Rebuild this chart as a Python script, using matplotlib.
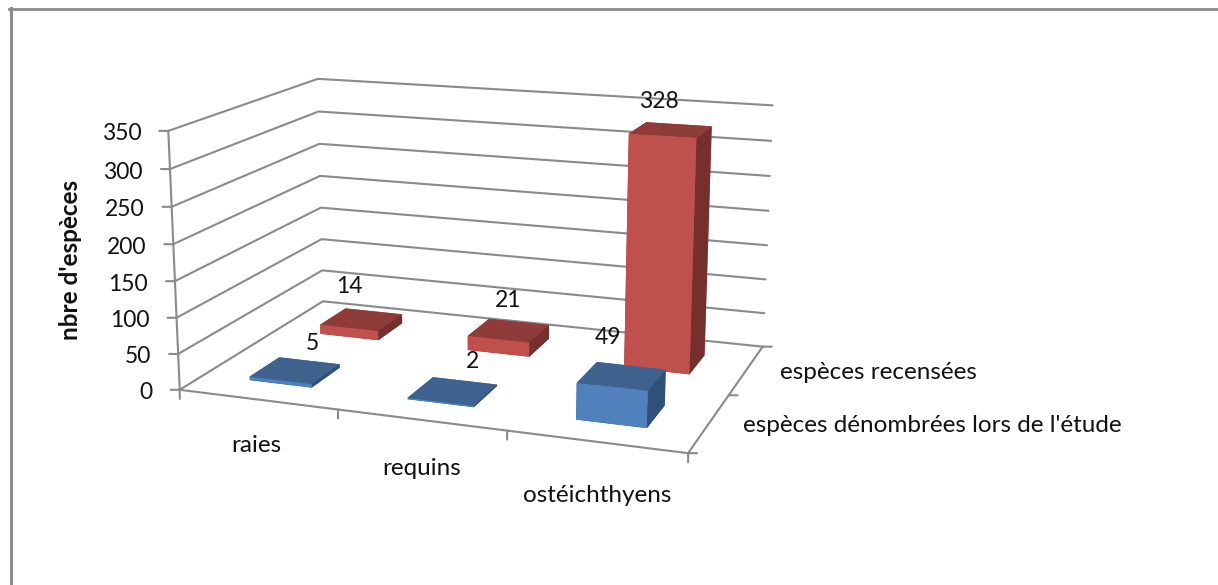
import matplotlib
matplotlib.use('Agg')
import matplotlib.pyplot as plt
from matplotlib.lines import Line2D
from mpl_toolkits.mplot3d import proj3d

categories = ['raies', 'requins', 'ostéichthyens']
series_names = ["espèces dénombrées lors de l'étude", 'espèces recensées']
denombrees = [5, 2, 49]
recensees = [14, 21, 328]
z_ticks = [0, 50, 100, 150, 200, 250, 300, 350]

W, H = 1218, 585
GREY = '#8A8A8A'
TXT = '#111111'
FS_NUM = 16.5
FS_TXT = 17.5
LW = 1.5
plt.rcParams['font.family'] = ['Lato', 'DejaVu Sans']

# front face, top, right side of the bars
BLUE = ['#4F81BD', '#3E618D', '#2F5078']
RED = ['#C0504D', '#8E3B39', '#772F2D']

fig = plt.figure(figsize=(W / 100, H / 100), dpi=100)
side = 641.59
ax = fig.add_axes([152.45 / W, 1 - (-67.39 + side) / H, side / W, side / H],
                  projection='3d', computed_zorder=False)
ax.patch.set_visible(False)
ax.set_axis_off()
x0, x1 = -0.5, 2.5
y0, y1 = -0.5, 1.5
ax.set_xlim(x0, x1)
ax.set_ylim(y0, y1)
ax.set_zlim(z_ticks[0], z_ticks[-1])
ax.view_init(14.2667, -70.0536, 0.0323)
ax.set_box_aspect((1, 0.6536, 0.5058))
ax.set_proj_type('persp', focal_length=0.5177)
M = ax.get_proj()


def note(x, y, z, s, dx, dy, fs=FS_TXT, **kw):
    u, v, _ = proj3d.proj_transform(x, y, z, M)
    ax.annotate(s, (u, v), xytext=(dx, dy), textcoords='offset pixels',
                annotation_clip=False, fontsize=fs, color=TXT, zorder=6, **kw)


def tick(x, y, z, dx, dy):
    u, v, _ = proj3d.proj_transform(x, y, z, M)
    ax.annotate('', (u, v), xytext=(dx, dy), textcoords='offset pixels',
                annotation_clip=False, zorder=1,
                arrowprops=dict(arrowstyle='-', color=GREY, lw=LW,
                                shrinkA=0, shrinkB=0))


# walls and floor
for z in z_ticks:
    ax.plot([x0, x0, x1], [y0, y1, y1], [z, z, z], color=GREY, lw=LW, zorder=1)
ax.plot([x0, x0], [y0, y0], [z_ticks[0], z_ticks[-1]], color=GREY, lw=LW, zorder=1)
ax.plot([x0, x1, x1], [y0, y0, y1], [0, 0, 0], color=GREY, lw=LW, zorder=1)

# axis ticks and their labels
for z in z_ticks:
    tick(x0, y0, z, -9, 0)
    note(x0, y0, z, str(z), -27, -3, fs=FS_NUM, ha='right', va='center')
for x in [x0, x0 + 1, x0 + 2, x1]:
    tick(x, y0, 0, 0, -9)
for y in [y0, y0 + 1, y1]:
    tick(x1, y, 0, 9, 0)

cat_offsets = [(-1, -46), (0, -49), (1, -54)]
for i, name in enumerate(categories):
    note(i, y0, 0, name, cat_offsets[i][0], cat_offsets[i][1], ha='center', va='center')
for j, name in enumerate(series_names):
    note(x1, j, 0, name, 34, -3, ha='left', va='center')

# bars, back row first
bar_w = 0.4
bar_d = 0.4
for j, (vals, c) in enumerate([(recensees, RED), (denombrees, BLUE)]):
    y = 1 - j
    for i, v in enumerate(vals):
        ax.bar3d(i - bar_w / 2, y - bar_d / 2, 0, bar_w, bar_d, v,
                 color=[c[2], c[1], c[0], c[0], c[2], c[2]], shade=False,
                 linewidth=0, zorder=3 + j)

# data labels, shifted from the middle of each bar top
blue_offsets = [(17, 27), (20, 30), (-14, 39)]
red_offsets = [(-12, 33), (-1, 30), (-12, 28)]
for i in range(len(categories)):
    note(i, 0, denombrees[i], str(denombrees[i]), blue_offsets[i][0], blue_offsets[i][1],
         fs=FS_NUM, ha='center', va='center')
    note(i, 1, recensees[i], str(recensees[i]), red_offsets[i][0], red_offsets[i][1],
         fs=FS_NUM, ha='center', va='center')

fig.text(70 / W, 1 - 260 / H, "nbre d'espèces", rotation=90, ha='center', va='center',
         fontsize=FS_TXT, fontweight='bold', color=TXT)

# chart frame, only top and left show in the crop
fig.add_artist(Line2D([9 / W, 1], [1 - 9 / H, 1 - 9 / H], color=GREY, lw=2))
fig.add_artist(Line2D([10.5 / W, 10.5 / W], [0, 1 - 8 / H], color=GREY, lw=2.2))

fig.savefig('out.png', dpi=100)
